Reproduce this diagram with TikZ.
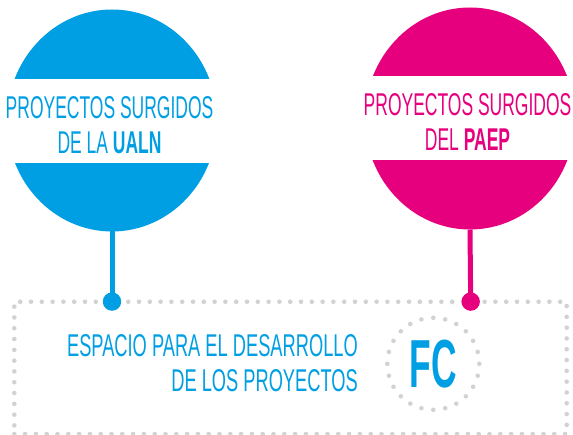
\documentclass[tikz,border=0pt]{standalone}
\usepackage{fontspec}
\setmainfont[FakeStretch=0.58]{Liberation Sans}
\newfontfamily\blobfont[FakeStretch=0.555]{Liberation Sans}
\newfontfamily\fcfont[FakeStretch=0.52]{Liberation Sans}
\usetikzlibrary{shapes.geometric,positioning}
\definecolor{cy}{HTML}{009FE3}
\definecolor{mg}{HTML}{E6007E}
\definecolor{dotgr}{HTML}{D2D2D2}
\tikzset{
  blob/.style={ellipse,inner sep=0pt,outer sep=0pt,minimum width=210pt,minimum height=222pt},
  band/.style={fill=white,inner sep=0pt,minimum width=232pt,minimum height=84pt},
  lbl/.style={align=center,inner sep=0pt,font=\fontsize{31.5}{35}\selectfont},
  bloblbl/.style={lbl,font=\blobfont\fontsize{31.5}{35}\selectfont},
  stem/.style={line width=5pt},
  pin/.style={circle,inner sep=0pt,minimum size=18.4pt},
  dotline/.style={draw=dotgr,line width=4.6pt,line cap=round,dash pattern=on 0pt off 10.8pt},
}
\begin{document}
\begin{tikzpicture}[x=1pt,y=-1pt]
\useasboundingbox (0,0) rectangle (573,435);
\node[dotline,inner sep=0pt,minimum width=552.4pt,minimum height=132.3pt] (space) at (290.5,367.9) {};

\node[blob,fill=cy] (ualn) at (112,120.5) {};
\node[band] (ualnband) at (112,121) {};
\node[bloblbl,text=cy] (ualntxt) at (109.5,125) {PROYECTOS SURGIDOS\\DE LA \textbf{UALN}};
\node[pin,fill=cy] (ualndot) at (112,301.6) {};
\draw[stem,cy] (ualn.south) -- (ualndot.center);

\node[blob,fill=mg] (paep) at (470,118.5) {};
\node[band] (paepband) at (470,118.5) {};
\node[bloblbl,text=mg] (paeptxt) at (467.5,122.5) {PROYECTOS SURGIDOS\\DEL \textbf{PAEP}};
\node[pin,fill=mg] (paepdot) at (470.7,301.6) {};
\draw[stem,mg] (paep.south) -- (paepdot.center);

\node[lbl,align=right,text=cy,anchor=east] (esp) at (358,363.3) {ESPACIO PARA EL DESARROLLO\\DE LOS PROYECTOS};
\node[circle,dotline,dash pattern=on 0pt off 12.04pt,inner sep=0pt,minimum size=92pt,
  text=cy,font=\fcfont\bfseries\fontsize{68}{72}\selectfont] (fc) at (433.3,363.8) {FC};
\end{tikzpicture}
\end{document}
